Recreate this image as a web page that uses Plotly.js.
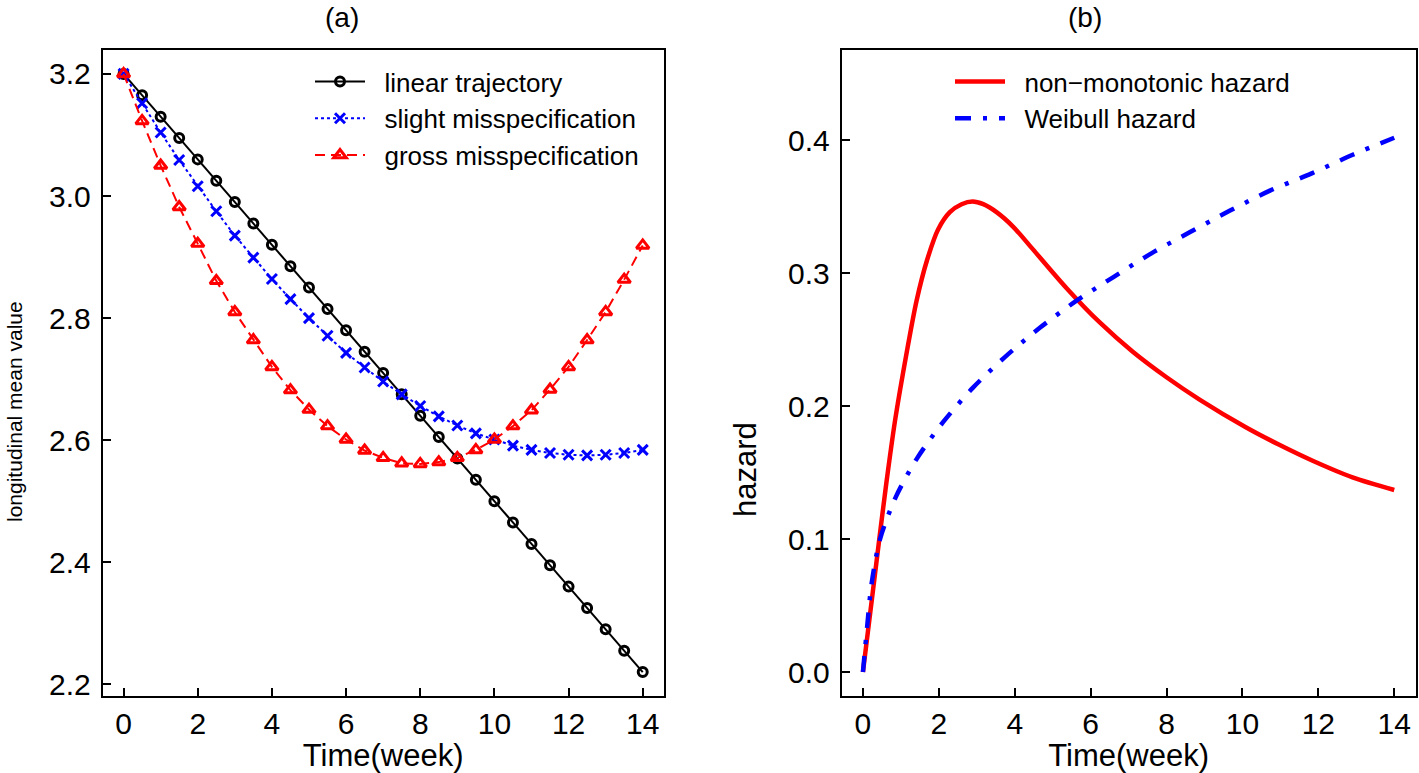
<!DOCTYPE html>
<html>
<head>
<meta charset="utf-8">
<script src="https://cdn.plot.ly/plotly-3.0.1.min.js"></script>
<style>
  html, body { margin: 0; padding: 0; background: #fff; }
  #plot { width: 1419px; height: 773px; }
</style>
</head>
<body>
<div id="plot"></div>
<script>
// panel (a): longitudinal mean trajectories, every half week
const weeks = [0, 0.5, 1, 1.5, 2, 2.5, 3, 3.5, 4, 4.5, 5, 5.5, 6, 6.5, 7, 7.5,
               8, 8.5, 9, 9.5, 10, 10.5, 11, 11.5, 12, 12.5, 13, 13.5, 14];
const linearTraj = [3.2, 3.165, 3.13, 3.095, 3.06, 3.025, 2.99, 2.955, 2.92, 2.885,
                    2.85, 2.815, 2.78, 2.745, 2.71, 2.675, 2.64, 2.605, 2.57, 2.535,
                    2.5, 2.465, 2.43, 2.395, 2.36, 2.325, 2.29, 2.255, 2.22];
const slightMis = [3.2, 3.152, 3.104, 3.059, 3.016, 2.975, 2.935, 2.899, 2.864, 2.831,
                   2.800, 2.771, 2.743, 2.719, 2.696, 2.675, 2.656, 2.639, 2.624, 2.611,
                   2.601, 2.591, 2.584, 2.579, 2.576, 2.575, 2.576, 2.579, 2.584];
const grossMis = [3.2, 3.123, 3.050, 2.982, 2.922, 2.861, 2.810, 2.764, 2.720, 2.682,
                  2.650, 2.623, 2.601, 2.583, 2.571, 2.562, 2.561, 2.564, 2.571, 2.584,
                  2.601, 2.623, 2.649, 2.683, 2.720, 2.764, 2.810, 2.863, 2.919];

// panel (b): hazard curves
const tNonMono = [0, 0.43, 0.62, 0.85, 1.15, 1.41, 1.69, 1.98, 2.29, 2.6, 2.89, 3.17, 3.52,
                  3.96, 4.48, 5.36, 6.24, 7.11, 7.99, 8.87, 10.1, 10.97, 11.85, 12.9, 14];
const hNonMono = [0, 0.1, 0.143, 0.19, 0.24, 0.279, 0.31, 0.333, 0.346, 0.352, 0.354, 0.352, 0.346,
                  0.335, 0.318, 0.289, 0.263, 0.241, 0.222, 0.205, 0.184, 0.171, 0.159, 0.1465, 0.137];
const tWeibull = [0, 0.11, 0.23, 0.45, 0.87, 1.43, 2.11, 2.9, 3.74, 4.66, 5.61, 6.59,
                  7.6, 8.62, 9.66, 10.71, 11.81, 12.89, 14];
const hWeibull = [0, 0.034, 0.067, 0.1, 0.132, 0.161, 0.188, 0.214, 0.237, 0.259, 0.279, 0.297,
                  0.315, 0.331, 0.347, 0.362, 0.375, 0.389, 0.402];

const W = 1419, H = 773;
const font = 'Liberation Sans, Arial, Helvetica, sans-serif';
const gap = '\u00a0\u00a0';

const traces = [
  {
    x: weeks, y: linearTraj, mode: 'lines+markers', name: gap + 'linear trajectory',
    line: {color: 'black', width: 2},
    marker: {symbol: 'circle-open', size: 9, color: 'black', line: {width: 3, color: 'black'}},
    xaxis: 'x', yaxis: 'y', legend: 'legend'
  },
  {
    x: weeks, y: slightMis, mode: 'lines+markers', name: gap + 'slight misspecification',
    line: {color: 'blue', width: 2, dash: 'dot'},
    marker: {symbol: 'x-thin-open', size: 10, color: 'blue', line: {width: 3, color: 'blue'}},
    xaxis: 'x', yaxis: 'y', legend: 'legend'
  },
  {
    x: weeks, y: grossMis, mode: 'lines+markers', name: gap + 'gross misspecification',
    line: {color: 'red', width: 2, dash: '10px,6px'},
    marker: {symbol: 'triangle-up-open', size: 11, color: 'red', line: {width: 3, color: 'red'}},
    xaxis: 'x', yaxis: 'y', legend: 'legend'
  },
  {
    x: tNonMono, y: hNonMono, mode: 'lines', name: gap + 'non\u2212monotonic hazard',
    line: {color: 'red', width: 4.5, shape: 'spline', smoothing: 0.8},
    xaxis: 'x2', yaxis: 'y2', legend: 'legend2'
  },
  {
    x: tWeibull, y: hWeibull, mode: 'lines', name: gap + 'Weibull hazard',
    line: {color: 'blue', width: 4.5, shape: 'spline', smoothing: 0.8, dash: '16px,12px,4px,12px'},
    xaxis: 'x2', yaxis: 'y2', legend: 'legend2'
  }
];

const yDom = [1 - 696 / H, 1 - 50 / H];

function xAx(domain) {
  return {
    domain: domain, range: [-0.56, 14.56], tickvals: [0, 2, 4, 6, 8, 10, 12, 14],
    ticks: 'inside', ticklen: 8, tickwidth: 2, tickcolor: 'black',
    showline: true, mirror: true, linewidth: 2, linecolor: 'black',
    showgrid: false, zeroline: false,
    tickfont: {size: 30, color: 'black', family: font},
    title: {text: 'Time(week)', font: {size: 31, color: 'black', family: font}, standoff: 0}
  };
}

function yAx(domain, range, vals) {
  return {
    domain: domain, range: range, tickvals: vals, tickformat: '.1f',
    ticks: 'inside', ticklen: 8, tickwidth: 2, tickcolor: 'black',
    showline: true, mirror: true, linewidth: 2, linecolor: 'black',
    showgrid: false, zeroline: false, ticklabelstandoff: 4,
    tickfont: {size: 30, color: 'black', family: font}
  };
}

function label(text, x, y, size, angle) {
  return {text: text, x: x / W, y: 1 - y / H, xref: 'paper', yref: 'paper',
          xanchor: 'center', yanchor: 'middle', textangle: angle || 0,
          showarrow: false, font: {size: size, family: font, color: 'black'}};
}

const layout = {
  width: W, height: H,
  margin: {l: 0, r: 0, t: 0, b: 0},
  paper_bgcolor: 'white', plot_bgcolor: 'white',
  font: {family: font, color: 'black'},
  xaxis: Object.assign(xAx([102.8 / W, 663.5 / W]), {anchor: 'y'}),
  yaxis: Object.assign(yAx(yDom, [2.1808, 3.2392], [2.2, 2.4, 2.6, 2.8, 3.0, 3.2]), {anchor: 'x'}),
  xaxis2: Object.assign(xAx([841.7 / W, 1415.5 / W]), {anchor: 'y2'}),
  yaxis2: Object.assign(yAx(yDom, [-0.018, 0.468], [0, 0.1, 0.2, 0.3, 0.4]), {anchor: 'x2'}),
  legend: {
    x: 310 / W, y: 1 - 58 / H, xanchor: 'left', yanchor: 'top',
    bgcolor: 'rgba(0,0,0,0)', font: {size: 26, family: font, color: 'black'},
    itemwidth: 50, tracegroupgap: 0
  },
  legend2: {
    x: 950 / W, y: 1 - 58 / H, xanchor: 'left', yanchor: 'top',
    bgcolor: 'rgba(0,0,0,0)', font: {size: 26, family: font, color: 'black'},
    itemwidth: 50, tracegroupgap: 0
  },
  showlegend: true,
  annotations: [
    label('(a)', 342, 18, 28),
    label('(b)', 1085, 18, 28),
    label('longitudinal mean value', 14, 412, 21, -90),
    label('hazard', 745, 470, 31, -90)
  ]
};

Plotly.newPlot('plot', traces, layout, {displayModeBar: false, staticPlot: true});
</script>
</body>
</html>
